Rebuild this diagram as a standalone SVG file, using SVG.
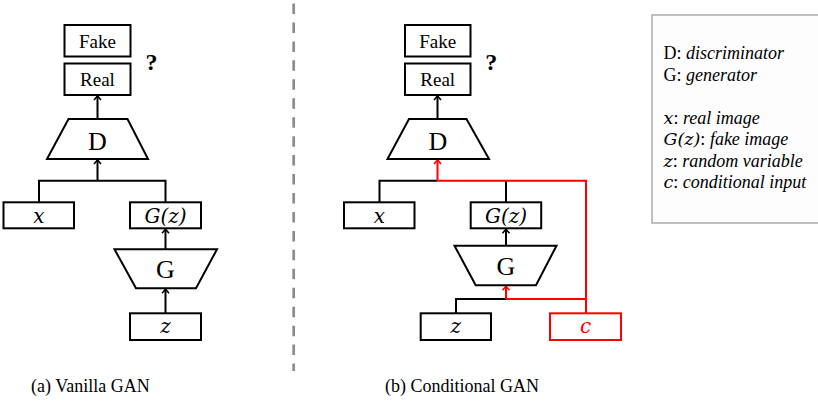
<svg xmlns="http://www.w3.org/2000/svg" width="818" height="403" viewBox="0 0 818 403">
<style>
.box{fill:#fff;stroke:#000;stroke-width:2}
.rbox{fill:#fff;stroke:#f00;stroke-width:2}
.trap{fill:#fff;stroke:#000;stroke-width:2;stroke-linejoin:miter}
.ser{font-family:'Liberation Serif','Times New Roman',Times,Tinos,'DejaVu Serif',serif}
.lbl{font-size:19px;fill:#000;text-anchor:middle}
.big{font-size:26px;fill:#000;text-anchor:middle}
.q{font-size:24px;font-weight:bold;fill:#000;text-anchor:middle}
.math{font-family:'DejaVu Serif',serif;font-style:italic;font-size:20px;fill:#000;text-anchor:middle}
.cap{font-size:18px;fill:#000}
.leg{font-size:18px;fill:#000}
.legm{font-family:'DejaVu Serif',serif;font-style:italic;font-size:17.5px}
.it{font-style:italic}
.wire{fill:none;stroke:#000;stroke-width:2}
.rwire{fill:none;stroke:#f00;stroke-width:2}
</style>
<defs>
<marker id="ah" markerUnits="userSpaceOnUse" viewBox="-6 -5 8 10" markerWidth="8" markerHeight="10" refX="0" refY="0" orient="auto">
<path d="M-4,-3.5 L0,0 L-4,3.5" fill="none" stroke="#000" stroke-width="1.6"/>
</marker>
<marker id="ahr" markerUnits="userSpaceOnUse" viewBox="-6 -5 8 10" markerWidth="8" markerHeight="10" refX="0" refY="0" orient="auto">
<path d="M-4,-3.5 L0,0 L-4,3.5" fill="none" stroke="#f00" stroke-width="1.6"/>
</marker>
</defs>
<rect x="0" y="0" width="818" height="403" fill="#fff"/>

<line x1="293.7" y1="3.5" x2="293.7" y2="371" stroke="#8c8c8c" stroke-width="2.7" stroke-dasharray="10.5 8.45"/>

<g id="connectors">
<line class="wire" x1="97.5" y1="119" x2="97.5" y2="96" marker-end="url(#ah)"/>
<path class="wire" d="M39,202.3 V180.7 H165.5 V202.3"/>
<line class="wire" x1="97.5" y1="180.7" x2="97.5" y2="160" marker-end="url(#ah)"/>
<line class="wire" x1="165.5" y1="249.3" x2="165.5" y2="229.3" marker-end="url(#ah)"/>
<line class="wire" x1="165.5" y1="313.3" x2="165.5" y2="289.3" marker-end="url(#ah)"/>

<line class="wire" x1="437.5" y1="119" x2="437.5" y2="96" marker-end="url(#ah)"/>
<path class="wire" d="M379.5,202.3 V180.7 H437.5"/>
<path class="wire" d="M506,180.7 V202.3"/>
<line class="wire" x1="506" y1="245.7" x2="506" y2="229.3" marker-end="url(#ah)"/>
<path class="wire" d="M456,313.3 V299 H506"/>
<path class="rwire" d="M586,313.3 V180.7 H437.5"/>
<line class="rwire" x1="437.5" y1="180.7" x2="437.5" y2="160" marker-end="url(#ahr)"/>
<path class="rwire" d="M586,299 H506"/>
<line class="rwire" x1="506" y1="299" x2="506" y2="286.3" marker-end="url(#ahr)"/>
</g>

<g id="a-fake"><rect class="box" x="64.5" y="25" width="66" height="31.5"/><text class="ser lbl" x="97.5" y="48">Fake</text></g>
<g id="a-real"><rect class="box" x="64.5" y="63.5" width="66" height="31.5"/><text class="ser lbl" x="97.5" y="86">Real</text></g>
<g id="a-q"><text class="ser q" x="151.5" y="70">?</text></g>
<g id="a-D"><polygon class="trap" points="68.5,119 127.5,119 148,159 47,159"/><text class="ser big" x="97.5" y="150">D</text></g>
<g id="a-x"><rect class="box" x="3.5" y="202.3" width="70.5" height="26"/><text class="math" x="39" y="223">x</text></g>
<g id="a-Gz"><rect class="box" x="130" y="202.3" width="71" height="26"/><text class="math" x="165.5" y="223">G(z)</text></g>
<g id="a-G"><polygon class="trap" points="114.5,249.3 217,249.3 196,288.3 136,288.3"/><text class="ser big" x="165.5" y="278">G</text></g>
<g id="a-z"><rect class="box" x="130" y="313.3" width="71" height="26.7"/><text class="math" x="165.5" y="333">z</text></g>
<g id="a-cap"><text class="ser cap" x="31" y="392">(a) Vanilla GAN</text></g>

<g id="b-fake"><rect class="box" x="405" y="25" width="65.5" height="31.5"/><text class="ser lbl" x="437.7" y="48">Fake</text></g>
<g id="b-real"><rect class="box" x="405" y="63.5" width="65.5" height="31.5"/><text class="ser lbl" x="437.7" y="86">Real</text></g>
<g id="b-q"><text class="ser q" x="491.2" y="70">?</text></g>
<g id="b-D"><polygon class="trap" points="409,119 466.5,119 489,159 387.5,159"/><text class="ser big" x="438" y="150">D</text></g>
<g id="b-x"><rect class="box" x="344" y="202.3" width="70.5" height="26"/><text class="math" x="379.3" y="223">x</text></g>
<g id="b-Gz"><rect class="box" x="470.7" y="202.3" width="70.5" height="26"/><text class="math" x="506" y="223">G(z)</text></g>
<g id="b-G"><polygon class="trap" points="454.5,245.7 556.5,245.7 536,285.3 475.7,285.3"/><text class="ser big" x="506" y="275">G</text></g>
<g id="b-z"><rect class="box" x="420.7" y="313.3" width="70.3" height="26.7"/><text class="math" x="455.8" y="333">z</text></g>
<g id="b-c"><rect class="rbox" x="550" y="313.3" width="71" height="26.7"/><text class="math" x="585.5" y="333" style="fill:#f00">c</text></g>
<g id="b-cap"><text class="ser cap" x="385" y="392">(b) Conditional GAN</text></g>

<g id="legend">
<rect x="652" y="15" width="200" height="208" fill="#fdfdfd" stroke="#aaaaaa" stroke-width="1.5"/>
<text class="ser leg" x="663.5" y="59">D: <tspan class="it">discriminator</tspan></text>
<text class="ser leg" x="663.5" y="80.5">G: <tspan class="it">generator</tspan></text>
<text class="ser leg" x="663.5" y="123.5"><tspan class="legm">x</tspan>: <tspan class="it">real image</tspan></text>
<text class="ser leg" x="663.5" y="145"><tspan class="legm">G(z)</tspan>: <tspan class="it">fake image</tspan></text>
<text class="ser leg" x="663.5" y="166.5"><tspan class="legm">z</tspan>: <tspan class="it">random variable</tspan></text>
<text class="ser leg" x="663.5" y="188"><tspan class="legm">c</tspan>: <tspan class="it">conditional input</tspan></text>
</g>
</svg>
